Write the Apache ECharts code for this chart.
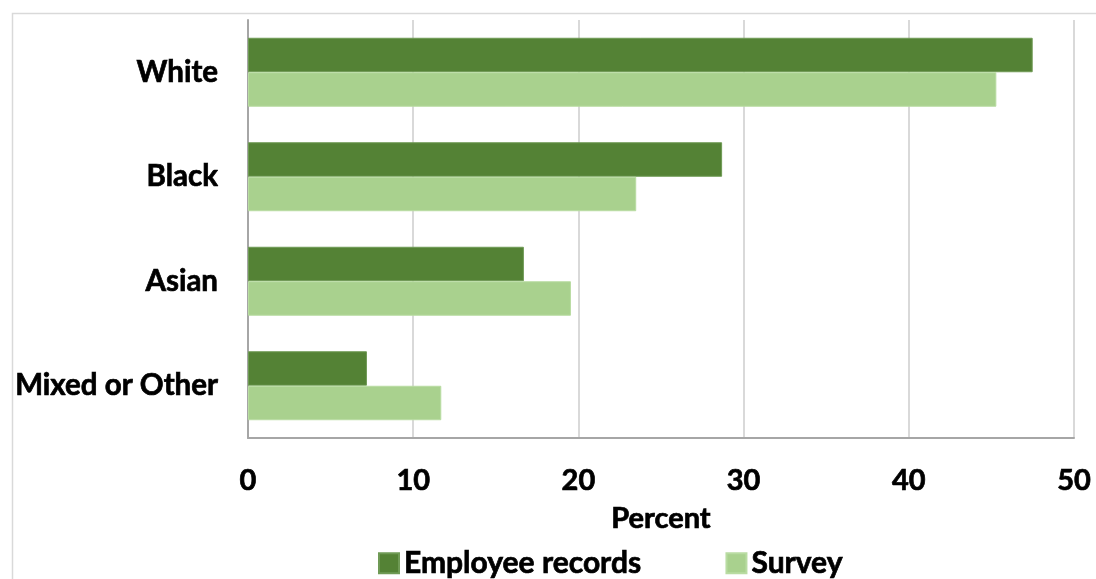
<!DOCTYPE html>
<html><head><meta charset="utf-8">
<script src="https://cdn.jsdelivr.net/npm/echarts@6/dist/echarts.min.js"></script>
<style>html,body{margin:0;padding:0;background:#fff}#c{width:1096px;height:579px}</style>
</head><body><div id="c"></div>
<script>
const categories = ["White", "Black", "Asian", "Mixed or Other"];
const employeeRecords = [47.5, 28.7, 16.7, 7.2];
const survey = [45.3, 23.5, 19.55, 11.7];
const xTicks = [0, 10, 20, 30, 40, 50];

const font = "Lato, sans-serif";
const fw = 'bold';
const heavy = {textBorderColor: '#000', textBorderWidth: 0.7};
const chart = echarts.init(document.getElementById('c'), null, {renderer: 'canvas'});
chart.setOption({
  animation: false,
  backgroundColor: '#fff',
  graphic: [{
    type: 'rect', left: 10, top: 11,
    shape: {width: 1200, height: 700},
    style: {fill: 'none', stroke: '#d9d9d9', lineWidth: 1.5}, silent: true, z: -1
  }],
  grid: {left: 248, right: 22, top: 20, bottom: 141, containLabel: false},
  legend: {
    top: 543, left: 373, itemGap: 84, itemWidth: 20, itemHeight: 20,
    icon: 'rect',
    textStyle: Object.assign({fontFamily: font, fontWeight: fw, fontSize: 30, color: '#000', padding: [0,0,0,0]}, heavy),
    data: ['Employee records', 'Survey']
  },
  xAxis: {
    type: 'value', min: 0, max: 50, interval: 10,
    name: 'Percent', nameLocation: 'middle', nameGap: 66,
    nameTextStyle: Object.assign({fontFamily: font, fontWeight: fw, fontSize: 29, color: '#000'}, heavy),
    axisLine: {show: true, lineStyle: {color: '#a6a6a6', width: 2}},
    axisTick: {show: false},
    axisLabel: Object.assign({fontFamily: font, fontWeight: fw, fontSize: 29, color: '#000', margin: 28,
      formatter: v => xTicks.includes(v) ? String(v) : ''}, heavy),
    splitLine: {show: true, lineStyle: {color: '#d9d9d9', width: 2}}
  },
  yAxis: {
    type: 'category', data: categories, inverse: true,
    axisLine: {show: true, lineStyle: {color: '#a6a6a6', width: 2}},
    axisTick: {show: false},
    axisLabel: Object.assign({fontFamily: font, fontWeight: fw, fontSize: 29.5, color: '#000', margin: 30}, heavy)
  },
  series: [
    {name: 'Employee records', type: 'bar', data: employeeRecords, barGap: '0%', barCategoryGap: '34%',
     itemStyle: {color: '#548235', borderColor: '#6f9a55', borderWidth: 1}},
    {name: 'Survey', type: 'bar', data: survey, barGap: '0%', barCategoryGap: '34%',
     itemStyle: {color: '#a9d18e', borderColor: '#b9dca2', borderWidth: 1}}
  ]
});
</script></body></html>
